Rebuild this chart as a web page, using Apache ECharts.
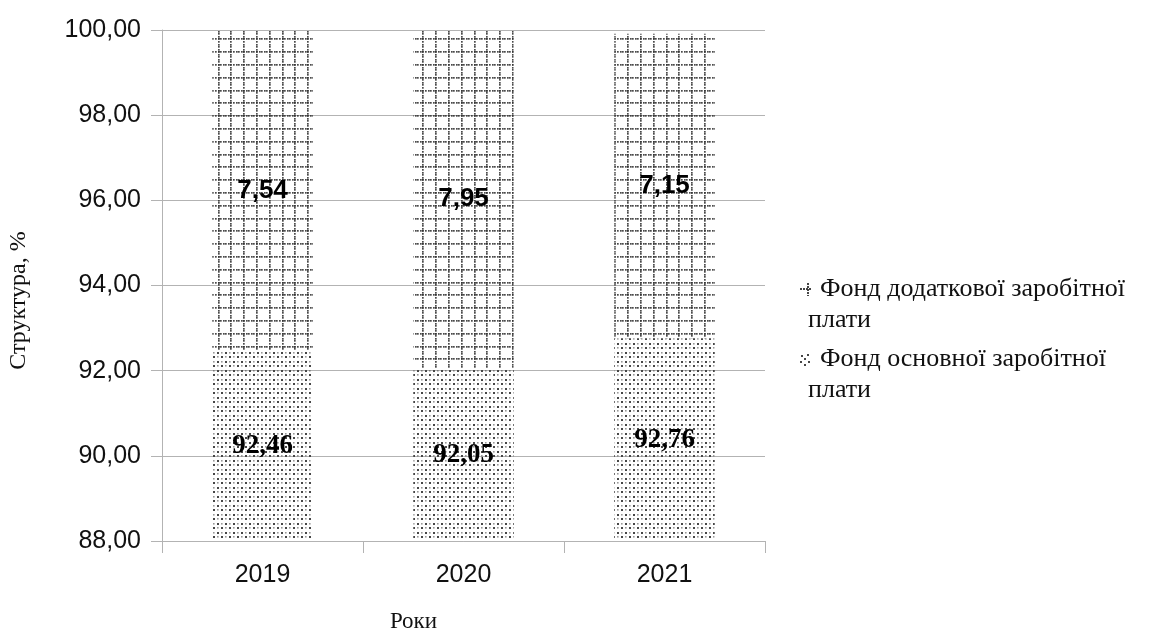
<!DOCTYPE html>
<html>
<head>
<meta charset="utf-8">
<script src="https://cdn.jsdelivr.net/npm/echarts@6/dist/echarts.min.js"></script>
<style>
  html, body { margin: 0; padding: 0; background: #fff; }
  #chart { width: 1152px; height: 633px; }
</style>
</head>
<body>
<div id="chart"></div>
<script>
// Years on the category axis
const years = ['2019', '2020', '2021'];
// Share of the basic wage fund, %
const basicFund = [92.46, 92.05, 92.76];
// Share of the additional wage fund, %
const extraFund = [7.54, 7.95, 7.15];
// Value axis ticks
const yMin = 88, yMax = 100, yStep = 2;

const nameExtra = 'Фонд додаткової заробітної плати';
const nameBasic = 'Фонд основної заробітної плати';

// Dotted grid hatch (dotted horizontal and vertical lines)
function gridHatch() {
  const size = 64, lines = 5, c = document.createElement('canvas');
  c.width = size; c.height = size;
  const g = c.getContext('2d');
  g.fillStyle = 'rgba(50,50,50,0.88)';
  const step = size / lines, dot = size / 25;
  for (let i = 0; i < lines; i++) {
    const p = Math.round(i * step);
    for (let j = 0; j < 25; j++) {
      const q = Math.round(j * dot);
      g.fillRect(q, p, 1.7, 1.7);
      g.fillRect(p, q, 1.7, 1.7);
    }
  }
  return { image: c, repeat: 'repeat' };
}

// Staggered dot fill
function dotFill() {
  const c = document.createElement('canvas');
  c.width = 8; c.height = 9;
  const g = c.getContext('2d');
  g.fillStyle = 'rgba(70,70,70,1)';
  g.fillRect(1, 1, 2, 2);
  g.fillRect(5, 5, 2, 2);
  g.fillStyle = 'rgba(70,70,70,0.55)';
  g.fillRect(5, 1, 1.6, 1.6);
  g.fillRect(1, 5, 1.6, 1.6);
  return { image: c, repeat: 'repeat' };
}

// Small legend swatches
function swatch(kind) {
  const c = document.createElement('canvas');
  c.width = 13; c.height = 13;
  const g = c.getContext('2d');
  g.fillStyle = 'rgba(50,50,50,0.9)';
  if (kind === 'hatch') {
    for (let x = 1; x < 13; x += 3) g.fillRect(x, 5, 2, 2);
    for (let y = 0; y < 13; y += 3) g.fillRect(8, y, 2, 2);
  } else {
    [[2, 2], [8, 1], [5, 5], [1, 8], [9, 8], [5, 11]].forEach(([x, y]) => g.fillRect(x, y, 2, 2));
  }
  return c;
}
const swatchHatch = swatch('hatch');
const swatchDots = swatch('dots');

const chart = echarts.init(document.getElementById('chart'), null, { renderer: 'canvas' });
const fmt = v => v.toFixed(2).replace('.', ',');

chart.setOption({
  animation: false,
  backgroundColor: '#fff',
  grid: { left: 162, right: 387, top: 30, bottom: 92, containLabel: false, outerBoundsMode: 'none' },
  legend: {
    orient: 'vertical',
    left: 789,
    top: 269,
    itemWidth: 0,
    itemHeight: 0,
    itemGap: 8,
    icon: 'none',
    data: [nameExtra, nameBasic],
    formatter: n => {
      const parts = n.split(' плати');
      const ic = n === nameExtra ? 'icA' : 'icB';
      return '{' + ic + '|}{sp|}{t|' + parts[0] + '}\n{t2|плати}';
    },
    textStyle: {
      fontFamily: 'Liberation Serif',
      fontSize: 26,
      lineHeight: 31,
      color: '#111',
      rich: {
        icA: { width: 13, height: 13, backgroundColor: { image: swatchHatch }, verticalAlign: 'middle' },
        icB: { width: 13, height: 13, backgroundColor: { image: swatchDots }, verticalAlign: 'middle' },
        sp: { width: 8 },
        t: { fontFamily: 'Liberation Serif', fontSize: 26, lineHeight: 31, color: '#111' },
        t2: { fontFamily: 'Liberation Serif', fontSize: 26, lineHeight: 31, color: '#111', padding: [0, 0, 0, 9] }
      }
    }
  },
  xAxis: {
    type: 'category',
    data: years,
    name: 'Роки',
    nameLocation: 'middle',
    nameGap: 69,
    nameTextStyle: {
      fontFamily: 'Liberation Serif', fontSize: 23, color: '#111',
      padding: [0, 100, 0, 0]
    },
    axisLine: { lineStyle: { color: '#b3b3b3', width: 1 } },
    axisTick: { show: true, length: 12, alignWithLabel: false, lineStyle: { color: '#b3b3b3' } },
    axisLabel: { fontFamily: 'Liberation Sans', fontSize: 25, color: '#111', margin: 22 }
  },
  yAxis: {
    type: 'value',
    min: yMin, max: yMax, interval: yStep,
    name: 'Структура, %',
    nameLocation: 'middle',
    nameGap: 131,
    nameRotate: 90,
    nameTextStyle: {
      fontFamily: 'Liberation Serif', fontSize: 24, color: '#111',
      padding: [0, 30, 0, 0]
    },
    axisLine: { show: true, lineStyle: { color: '#b3b3b3', width: 1 } },
    axisTick: { show: true, length: 11, lineStyle: { color: '#b3b3b3' } },
    splitLine: { lineStyle: { color: '#b3b3b3', width: 1 } },
    axisLabel: {
      fontFamily: 'Liberation Sans', fontSize: 25, color: '#111', margin: 21,
      formatter: fmt
    }
  },
  series: [
    {
      name: nameBasic,
      type: 'bar',
      stack: 'total',
      barWidth: '50%',
      data: basicFund,
      itemStyle: { color: dotFill() },
      label: {
        show: true, position: 'inside',
        fontFamily: 'Liberation Serif', fontWeight: 'bold', fontSize: 27, color: '#000',
        formatter: p => fmt(p.value)
      }
    },
    {
      name: nameExtra,
      type: 'bar',
      stack: 'total',
      barWidth: '50%',
      data: extraFund,
      itemStyle: { color: gridHatch() },
      label: {
        show: true, position: 'inside',
        fontFamily: 'Liberation Sans', fontWeight: 'bold', fontSize: 26, color: '#000',
        formatter: p => fmt(p.value)
      }
    }
  ]
});
</script>
</body>
</html>
